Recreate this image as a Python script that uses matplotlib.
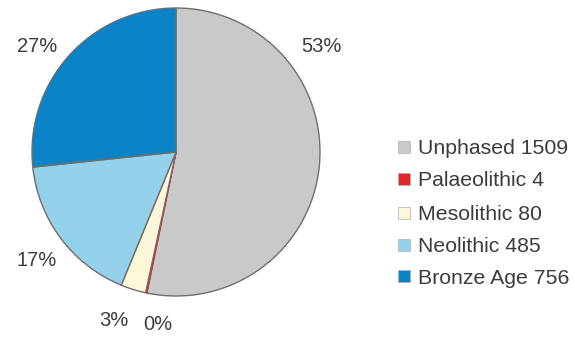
import matplotlib.pyplot as plt
import matplotlib.patches as patches

# data
categories = ["Unphased", "Palaeolithic", "Mesolithic", "Neolithic", "Bronze Age"]
counts = [1509, 4, 80, 485, 756]
pct_labels = ["53%", "0%", "3%", "17%", "27%"]
colors = ["#c9c9c9", "#e0262b", "#fbf7d8", "#94d1ea", "#0a84c6"]

plt.rcParams["font.family"] = ["Liberation Sans", "DejaVu Sans"]

fig = plt.figure(figsize=(5.75, 3.4), dpi=100)

# pie axes: centre ~ (176,152) px, radius ~144 px
ax = fig.add_axes([(176 - 150) / 575, 1 - (152 + 150) / 340, 300 / 575, 300 / 340])
wedges, _ = ax.pie(counts, colors=colors, startangle=90, counterclock=False,
                   radius=144 / 150,
                   wedgeprops=dict(edgecolor="#6e6e6e", linewidth=1))
wedges[1].set_edgecolor(colors[1])
ax.set_xlim(-1, 1)
ax.set_ylim(-1, 1)
ax.set_aspect("equal")
ax.axis("off")

# percentage labels, placed like the original (figure pixels)
label_pos = [(321, 45), (158, 322), (114, 318), (37, 258), (37, 45)]
for (px, py), txt in zip(label_pos, pct_labels):
    fig.text(px / 575, 1 - py / 340, txt, ha="center", va="center_baseline",
             fontsize=14.5, color="#3c3c3c")

# legend
rows_y = [147, 179, 213, 245, 276]
for cat, n, c, y in zip(categories, counts, colors, rows_y):
    fig.patches.append(patches.Rectangle((398 / 575, 1 - (y + 6) / 340), 12 / 575, 12 / 340,
                                         transform=fig.transFigure, facecolor=c,
                                         edgecolor="#b0b0b0", linewidth=0.5))
    fig.text(418 / 575, 1 - y / 340, f"{cat} {n}", ha="left", va="center_baseline",
             fontsize=15.3, color="#3c3c3c")

fig.savefig("out.png", dpi=100)
